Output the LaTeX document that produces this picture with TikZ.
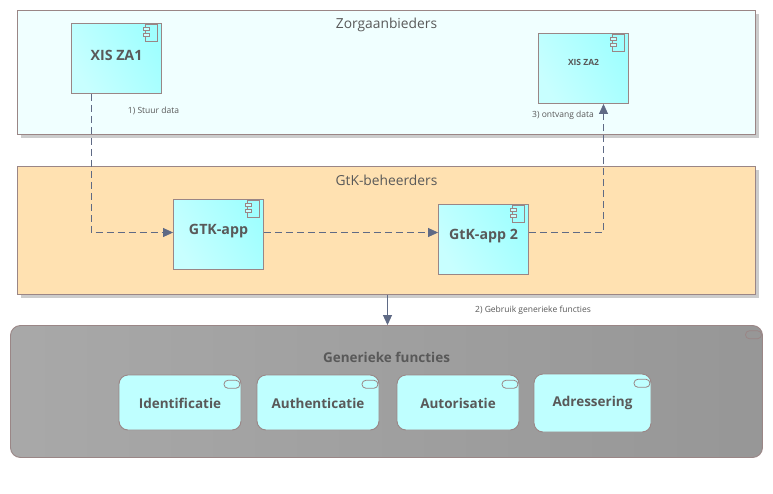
\documentclass[tikz,border=0pt]{standalone}
\usepackage{fontspec}
\setmainfont{Open Sans}
\usetikzlibrary{calc,arrows.meta,shadows}
\definecolor{edge}{HTML}{9A8686}
\definecolor{flow}{HTML}{5F6A85}
\definecolor{txt}{HTML}{595959}
\definecolor{zorgbg}{HTML}{F0FFFF}
\definecolor{beheerbg}{HTML}{FFE1B1}
\definecolor{cyanl}{HTML}{C8FFFF}
\definecolor{cyand}{HTML}{A0FFFF}
\definecolor{funcbg}{HTML}{BFFFFF}
\tikzset{
  layer/.style={draw=edge, line width=0.9pt, inner sep=0pt, minimum width=738pt, drop shadow={shadow xshift=3pt, shadow yshift=-3pt, fill=black!20, opacity=1}},
  comp/.style={draw=edge, line width=0.9pt, inner sep=0pt, minimum width=90pt, minimum height=70pt, left color=cyanl, right color=cyand, shading angle=120},
  func/.style={draw=edge, line width=0.9pt, fill=funcbg, rounded corners=9pt, inner sep=0pt, minimum height=55pt},
  icon/.style={draw=edge, line width=0.8pt},
  pill/.style={draw=edge, line width=0.8pt, rounded corners=4pt},
  dep/.style={draw=flow, line width=0.8pt, dash pattern=on 7pt off 4pt, -{Triangle[length=10pt,width=9pt,fill=flow]}},
  use/.style={draw=flow, line width=0.9pt, -{Triangle[length=10pt,width=9pt,fill=flow]}},
  title/.style={text=txt, font=\fontsize{13.8}{16}\selectfont},
  bold/.style={text=txt, font=\fontsize{13.5}{16}\selectfont\bfseries},
  boldb/.style={text=txt, font=\fontsize{14.2}{16}\selectfont\bfseries},
  small/.style={text=txt, font=\fontsize{8.5}{10}\selectfont}
}
\begin{document}
\begin{tikzpicture}[x=1pt,y=-1pt]
  \fill[white] (0,0) rectangle (773,493);
  \useasboundingbox (0,0) rectangle (773,493);
  % layers
  \node[layer, fill=zorgbg, minimum height=124pt] (zorg) at (386.5,72.5) {};
  \node[layer, fill=beheerbg, minimum height=128pt] (beheer) at (386.5,230.5) {};
  \node[draw=edge, line width=0.9pt, inner sep=0pt, minimum width=752pt, minimum height=132pt, rounded corners=10pt, left color=black!34, right color=black!41] (generiek) at (386.5,391.5) {};
  \node[title] at (386.5,24.5) {Zorgaanbieders};
  \node[title] at (386.5,180.3) {GtK-beheerders};
  \node[bold] at (386.5,357.3) {Generieke functies};
  % components
  \node[comp] (xisza1) at (116.5,58.5) {};
  \node[comp] (xisza2) at (583.5,68.5) {};
  \node[comp] (gtkapp) at (218.5,234.5) {};
  \node[comp] (gtkapp2) at (483.5,239.5) {};
  \foreach \n in {xisza1,xisza2,gtkapp,gtkapp2} {
    \draw[icon] ($(\n.north east)+(-17,1.5)$) rectangle ($(\n.north east)+(-5,18)$);
    \draw[icon, fill=cyanl] ($(\n.north east)+(-19,4.5)$) rectangle ($(\n.north east)+(-13,7.5)$);
    \draw[icon, fill=cyanl] ($(\n.north east)+(-19,10)$) rectangle ($(\n.north east)+(-13,13)$);
  }
  \node[boldb] at ($(xisza1.center)+(0,-3)$) {XIS ZA1};
  \node[text=txt, font=\fontsize{8.5}{10}\selectfont\bfseries] at ($(xisza2.center)+(0,-6)$) {XIS ZA2};
  \node[boldb] at ($(gtkapp.center)+(0,-3)$) {GTK-app};
  \node[boldb] at ($(gtkapp2.center)+(0,-3)$) {GtK-app 2};
  % functions
  \node[func, minimum width=122pt] (ident) at (180,402.5) {};
  \node[func, minimum width=122pt] (authn) at (318,402.5) {};
  \node[func, minimum width=122pt] (autor) at (458,402.5) {};
  \node[func, minimum width=117pt, minimum height=58pt] (adres) at (592.5,403) {};
  \foreach \n in {ident,authn,autor,adres,generiek} {
    \draw[pill] ($(\n.north east)+(-17.5,5.7)$) rectangle ($(\n.north east)+(-1.5,13.7)$);
  }
  \node[bold] at ($(ident.center)+(0,1)$) {Identificatie};
  \node[bold] at ($(authn.center)+(0,1)$) {Authenticatie};
  \node[bold] at ($(autor.center)+(0,1)$) {Autorisatie};
  \node[bold] at ($(adres.center)+(0,0)$) {Adressering};
  % connectors
  \draw[dep] ([xshift=20pt]xisza1.south west) |- ([yshift=2pt]gtkapp.west);
  \draw[dep] ([yshift=2pt]gtkapp.east) -- ([yshift=7pt]gtkapp2.west);
  \draw[dep] ([yshift=7pt]gtkapp2.east) -| ([xshift=20pt]xisza2.south);
  \draw[use] (beheer.south) ++(1,0) -- ([xshift=1pt]generiek.north);
  \node[small] at (153.5,111) {1) Stuur data};
  \node[small] at (563,115) {3) ontvang data};
  \node[small] at (533,310.5) {2) Gebruik generieke functies};
\end{tikzpicture}
\end{document}
